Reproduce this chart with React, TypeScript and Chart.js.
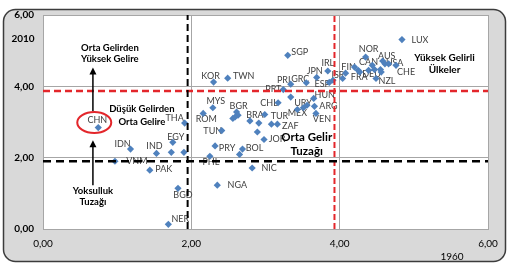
import React, { useEffect, useRef } from "react";
import { Chart, registerables } from "chart.js";

Chart.register(...registerables);

// Country codes (empty string = point drawn without a label)
const countries = [
  "CHN", "IDN", "IND", "", "", "EGY", "VNM", "PAK", "THA", "BGD",
  "NER", "PHL", "NGA", "NIC", "PRY", "BOL", "", "TUN", "JOR", "ROM",
  "MYS", "BGR", "", "", "", "BRA", "", "", "TUR", "ZAF",
  "", "CHL", "", "PRT", "PRI", "GRC", "JPN", "ESP", "IRL", "ISR",
  "", "FIN", "", "FRA", "", "NOR", "CAN", "", "DEU", "",
  "AUS", "", "USA", "", "NZL", "CHE", "LUX", "KOR", "TWN", "SGP",
  "URY", "MEX", "", "ARG", "VEN", "HUN",
];

// Relative income level, 1960 (x axis)
const income1960 = [
  0.745, 1.18, 1.53, 1.73, 1.9, 1.75, 0.97, 1.44, 1.91, 1.82,
  1.69, 2.25, 2.35, 2.82, 2.32, 2.69, 2.65, 2.41, 2.98, 2.16,
  2.29, 2.61, 2.63, 2.59, 2.56, 2.79, 2.91, 2.89, 3.08, 3.16,
  2.99, 3.17, 3.34, 3.24, 3.34, 3.55, 3.69, 3.86, 3.84, 3.91,
  4.04, 4.08, 4.2, 4.25, 4.27, 4.35, 4.39, 4.44, 4.47, 4.55,
  4.58, 4.61, 4.66, 4.56, 4.49, 4.76, 4.84, 2.3, 2.49, 3.3,
  3.56, 3.43, 3.51, 3.66, 3.68, 3.65,
];

// Relative income level, 2010 (y axis)
const income2010 = [
  2.845, 2.24, 2.12, 2.15, 2.15, 2.43, 1.9, 1.65, 2.97, 1.14,
  0.13, 2.04, 1.23, 1.71, 2.33, 2.24, 2.09, 2.76, 2.51, 3.24,
  3.4, 3.28, 3.19, 3.14, 3.1, 3.03, 2.97, 2.72, 2.94, 2.94,
  3.21, 3.54, 3.7, 3.91, 4.06, 4.1, 4.25, 4.11, 4.43, 4.17,
  4.22, 4.37, 4.54, 4.45, 4.4, 4.82, 4.45, 4.59, 4.47, 4.47,
  4.71, 4.63, 4.63, 4.4, 4.22, 4.59, 5.31, 4.12, 4.23, 4.87,
  3.47, 3.35, 3.4, 3.44, 3.24, 3.66,
];

// Threshold lines
const povertyX = 1.95;
const povertyY = 1.9;
const highX = 3.93;
const highY = 3.87;

const axisTicks = [0, 2, 4, 6];
const xAxisTitle = "1960";
const yAxisTitle = "2010";

// Label placement next to each marker, in pixels
const labelNudge: Record<string, [number, number]> = {
  CHN: [-1, -7], IDN: [-8, -5], IND: [-2, -7], EGY: [3, -5], VNM: [22, 0],
  PAK: [14, -1], THA: [-10, -5], BGD: [5, 7], NER: [12, -5], PHL: [1, 6],
  NGA: [20, 0], NIC: [17, 0], PRY: [12, 2], BOL: [12, -1], TUN: [-9, 1],
  JOR: [13, 0], ROM: [3, 6], MYS: [3, -7], BGR: [2, -6], BRA: [5, -6],
  TUR: [8, -8], ZAF: [13, 2], CHL: [-9, 0], PRT: [-10, 0], PRI: [-7, -4],
  GRC: [-6, -4], JPN: [-2, -6], ESP: [-7, 2], IRL: [0, -8], ISR: [5, -5],
  FIN: [3, -6], FRA: [1, 7], NOR: [3, -8], CAN: [0, -8], DEU: [-3, 5],
  AUS: [4, -5], USA: [6, -1], NZL: [11, 3], CHE: [10, 7], LUX: [18, 0],
  KOR: [-3, -6], TWN: [16, -2], SGP: [12, -3], URY: [-4, -2], MEX: [0, 4],
  ARG: [14, 0], VEN: [6, 6], HUN: [11, -3],
};

// Region notes (data units for the first line)
const notes = [
  { lines: ["Orta Gelirden", "Yüksek Gelire"], x: 0.902, y: 5.063, size: 9.5, gap: 11 },
  { lines: ["Düşük Gelirden", "Orta Gelire"], x: 1.333, y: 3.357, size: 9.5, gap: 13 },
  { lines: ["Yoksulluk", "Tuzağı"], x: 0.673, y: 1.063, size: 9.5, gap: 11 },
  { lines: ["Orta Gelir", "Tuzağı"], x: 3.556, y: 2.573, size: 11.5, gap: 14 },
  { lines: ["Yüksek Gelirli", "Ülkeler"], x: 5.414, y: 4.811, size: 10, gap: 12 },
];

// Arrows pointing at the highlighted economy (x, yFrom, yTo)
const arrows = [
  { x: 0.673, from: 3.3, to: 4.53 },
  { x: 0.673, from: 1.23, to: 2.49 },
];
const highlighted = "CHN";

const FONT = "Lato, 'DejaVu Sans', sans-serif";
const fmt = (v: number) => v.toFixed(2).replace(".", ",");

function roundRectPath(ctx: CanvasRenderingContext2D, x: number, y: number, w: number, h: number, r: number) {
  ctx.beginPath();
  ctx.moveTo(x + r, y);
  ctx.arcTo(x + w, y, x + w, y + h, r);
  ctx.arcTo(x + w, y + h, x, y + h, r);
  ctx.arcTo(x, y + h, x, y, r);
  ctx.arcTo(x, y, x + w, y, r);
  ctx.closePath();
}

const framePlugin = {
  id: "frame",
  beforeDraw(chart: any) {
    const { ctx, chartArea } = chart;
    ctx.save();
    roundRectPath(ctx, 3.5, 9.5, 502, 252, 12);
    ctx.fillStyle = "#d9d9d9";
    ctx.fill();
    ctx.lineWidth = 1.5;
    ctx.strokeStyle = "#3c3c3c";
    ctx.stroke();
    ctx.fillStyle = "#ffffff";
    ctx.fillRect(chartArea.left, chartArea.top, chartArea.right - chartArea.left, chartArea.bottom - chartArea.top);
    ctx.restore();
  },
  afterDraw(chart: any) {
    const { ctx } = chart;
    ctx.save();
    ctx.fillStyle = "#000";
    ctx.textAlign = "center";
    ctx.textBaseline = "middle";
    ctx.font = `bold 10px ${FONT}`;
    ctx.fillText(yAxisTitle, 23, 39);
    ctx.font = `10px ${FONT}`;
    ctx.fillText(xAxisTitle, 452, 257);
    ctx.restore();
  },
};

const countryLabelPlugin = {
  id: "countryLabels",
  beforeDatasetsDraw(chart: any) {
    const { ctx, scales } = chart;
    ctx.save();
    ctx.font = `9px ${FONT}`;
    ctx.fillStyle = "#404040";
    ctx.textAlign = "center";
    ctx.textBaseline = "middle";
    countries.forEach((name, i) => {
      if (!name) return;
      const [dx, dy] = labelNudge[name] || [0, -7];
      const px = scales.x.getPixelForValue(income1960[i]);
      const py = scales.y.getPixelForValue(income2010[i]);
      ctx.fillText(name, px + dx, py + dy);
    });
    ctx.restore();
  },
};

const notesPlugin = {
  id: "notes",
  afterDatasetsDraw(chart: any) {
    const { ctx, scales } = chart;
    const X = (v: number) => scales.x.getPixelForValue(v);
    const Y = (v: number) => scales.y.getPixelForValue(v);
    ctx.save();
    ctx.fillStyle = "#000";
    ctx.textAlign = "center";
    ctx.textBaseline = "middle";
    notes.forEach((n) => {
      ctx.font = `bold ${n.size}px ${FONT}`;
      n.lines.forEach((t, k) => ctx.fillText(t, X(n.x), Y(n.y) + k * n.gap));
    });

    // arrows
    ctx.strokeStyle = "#000";
    ctx.lineWidth = 1.5;
    arrows.forEach((a) => {
      const x = X(a.x);
      const y0 = Y(a.from);
      const y1 = Y(a.to);
      ctx.beginPath();
      ctx.moveTo(x, y0);
      ctx.lineTo(x, y1 + 4);
      ctx.stroke();
      ctx.beginPath();
      ctx.moveTo(x, y1);
      ctx.lineTo(x - 3.5, y1 + 7);
      ctx.lineTo(x + 3.5, y1 + 7);
      ctx.closePath();
      ctx.fill();
    });

    // ring around the highlighted economy
    const i = countries.indexOf(highlighted);
    const cx = X(income1960[i]) - 4;
    const cy = Y(income2010[i]) - 5;
    ctx.beginPath();
    ctx.ellipse(cx, cy, 17, 10.5, 0, 0, Math.PI * 2);
    ctx.strokeStyle = "#e3262b";
    ctx.lineWidth = 2;
    ctx.stroke();
    ctx.restore();
  },
};

function dashed(x0: number, y0: number, x1: number, y1: number, color: string, width: number, dash: number[]) {
  return {
    type: "line" as const,
    data: [{ x: x0, y: y0 }, { x: x1, y: y1 }],
    borderColor: color,
    borderWidth: width,
    borderDash: dash,
    pointRadius: 0,
    showLine: true,
    fill: false,
    order: 0,
  };
}

export default function App() {
  const ref = useRef<HTMLCanvasElement | null>(null);

  useEffect(() => {
    document.body.style.margin = "0";
    const canvas = ref.current;
    if (!canvas) return;

    const points = countries.map((_, i) => ({ x: income1960[i], y: income2010[i] }));

    const chart = new Chart(canvas, {
      type: "scatter",
      data: {
        datasets: [
          {
            data: points,
            pointStyle: "rectRot",
            pointRadius: 3.6,
            backgroundColor: "#4f81bd",
            borderColor: "#4f81bd",
            borderWidth: 0,
            order: 1,
          } as any,
          dashed(0, povertyY, 6, povertyY, "#000000", 2.5, [8, 5]),
          dashed(povertyX, 0, povertyX, 6, "#000000", 2, [7, 4]),
          dashed(0, highY, 6, highY, "#e3262b", 2.5, [7, 4]),
          dashed(highX, 0, highX, 6, "#e3262b", 2, [6, 3]),
        ],
      },
      options: {
        responsive: false,
        animation: false,
        devicePixelRatio: 1,
        layout: { padding: { top: 14, right: 22, left: 0, bottom: 0 } },
        plugins: { legend: { display: false }, tooltip: { enabled: false } },
        scales: {
          x: {
            type: "linear",
            min: 0,
            max: 6,
            afterFit: (s: any) => { s.height = 38; },
            afterBuildTicks: (s: any) => { s.ticks = axisTicks.map((v) => ({ value: v })); },
            ticks: {
              callback: (v: any) => fmt(Number(v)),
              font: { family: FONT, size: 10 },
              color: "#000",
              padding: 9,
              maxRotation: 0,
            },
            grid: { color: "#a6a6a6", drawTicks: false },
            border: { color: "#a6a6a6" },
          },
          y: {
            type: "linear",
            min: 0,
            max: 6,
            afterFit: (s: any) => { s.width = 43; },
            afterBuildTicks: (s: any) => { s.ticks = axisTicks.map((v) => ({ value: v })); },
            ticks: {
              callback: (v: any) => fmt(Number(v)),
              font: { family: FONT, size: 10, weight: "bold" },
              color: "#000",
              padding: 9,
            },
            grid: { color: "#a6a6a6", drawTicks: false },
            border: { color: "#a6a6a6" },
          },
        },
      } as any,
      plugins: [framePlugin, countryLabelPlugin, notesPlugin],
    });

    return () => chart.destroy();
  }, []);

  return <canvas ref={ref} width={510} height={267} style={{ display: "block", width: 510, height: 267 }} />;
}
